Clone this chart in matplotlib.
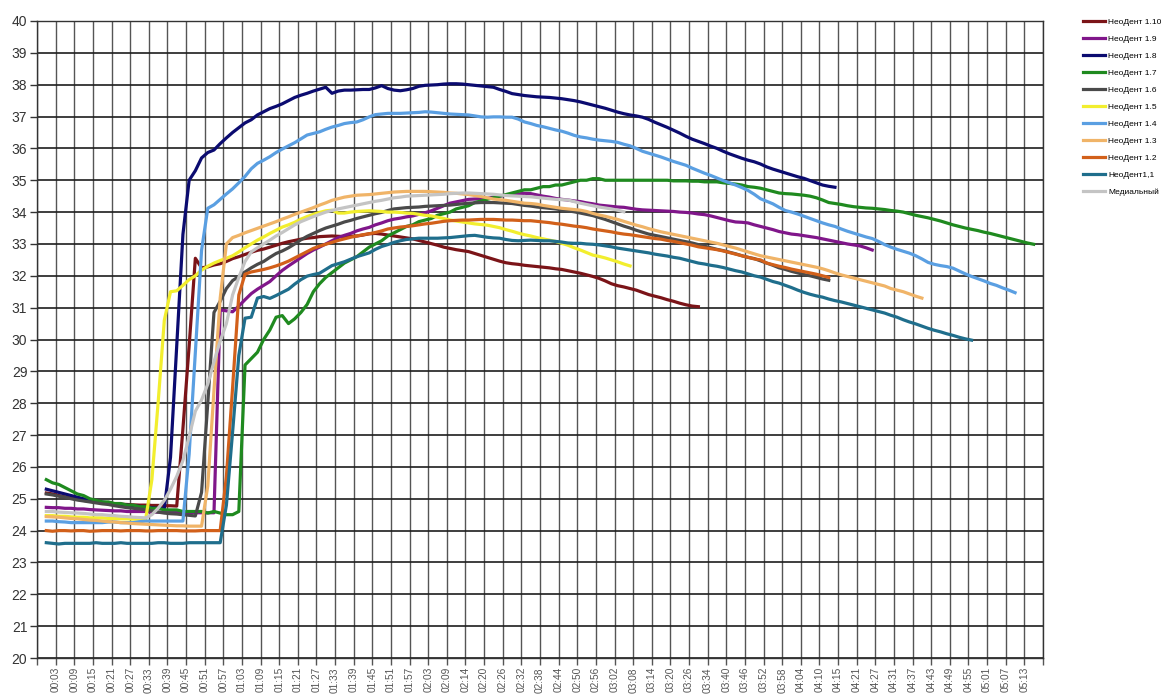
import numpy as np
import matplotlib
matplotlib.use('Agg')
import matplotlib.pyplot as plt

plt.rcParams['font.family'] = ['Liberation Sans', 'DejaVu Sans']

#===========================================
# x axis labels (every 3rd measurement)
time_labels = ['00:03', '00:09', '00:15', '00:21', '00:27', '00:33', '00:39', '00:45', '00:51', '00:57',
               '01:03', '01:09', '01:15', '01:21', '01:27', '01:33', '01:39', '01:45', '01:51', '01:57',
               '02:03', '02:09', '02:14', '02:20', '02:26', '02:32', '02:38', '02:44', '02:50', '02:56',
               '03:02', '03:08', '03:14', '03:20', '03:26', '03:34', '03:40', '03:46', '03:52', '03:58',
               '04:04', '04:10', '04:15', '04:21', '04:27', '04:31', '04:37', '04:43', '04:49', '04:55',
               '05:01', '05:07', '05:13']

#series values, one value per measurement
neo_1_10 = [25.18, 25.15, 25.10, 25.06, 25.02, 24.98, 24.95, 24.92, 24.90, 24.88,
            24.86, 24.84, 24.83, 24.82, 24.81, 24.80, 24.80, 24.79, 24.79, 24.78,
            24.78, 24.77, 27.20, 29.80, 32.55, 32.25, 32.28, 32.34, 32.38, 32.45,
            32.54, 32.60, 32.67, 32.74, 32.80, 32.84, 32.90, 32.96, 33.02, 33.07,
            33.11, 33.15, 33.18, 33.20, 33.23, 33.24, 33.25, 33.24, 33.23, 33.24,
            33.25, 33.28, 33.32, 33.33, 33.31, 33.28, 33.25, 33.22, 33.19, 33.16,
            33.11, 33.06, 33.01, 32.96, 32.90, 32.86, 32.82, 32.79, 32.76, 32.70,
            32.64, 32.58, 32.52, 32.46, 32.41, 32.38, 32.36, 32.33, 32.31, 32.29,
            32.27, 32.25, 32.22, 32.20, 32.16, 32.12, 32.08, 32.03, 31.98, 31.92,
            31.84, 31.75, 31.69, 31.65, 31.60, 31.55, 31.48, 31.41, 31.36, 31.31,
            31.25, 31.20, 31.14, 31.09, 31.05, 31.03]

neo_1_9 = [24.73, 24.72, 24.72, 24.70, 24.70, 24.68, 24.68, 24.66, 24.65, 24.64,
           24.63, 24.62, 24.62, 24.60, 24.60, 24.60, 24.60, 24.58, 24.58, 24.58,
           24.57, 24.57, 24.57, 24.56, 24.56, 24.56, 24.56, 24.56, 30.93, 30.90,
           30.87, 31.05, 31.25, 31.44, 31.58, 31.70, 31.82, 32.00, 32.17, 32.31,
           32.44, 32.57, 32.70, 32.81, 32.90, 33.00, 33.10, 33.20, 33.27, 33.33,
           33.41, 33.47, 33.52, 33.60, 33.66, 33.73, 33.78, 33.81, 33.85, 33.88,
           33.93, 33.98, 34.04, 34.12, 34.20, 34.28, 34.32, 34.36, 34.40, 34.41,
           34.42, 34.43, 34.47, 34.50, 34.53, 34.55, 34.57, 34.59, 34.58, 34.54,
           34.50, 34.47, 34.43, 34.40, 34.38, 34.35, 34.33, 34.29, 34.26, 34.22,
           34.20, 34.18, 34.16, 34.15, 34.12, 34.09, 34.07, 34.06, 34.05, 34.04,
           34.03, 34.02, 34.00, 33.99, 33.97, 33.94, 33.92, 33.88, 33.83, 33.78,
           33.73, 33.69, 33.68, 33.66, 33.60, 33.55, 33.50, 33.45, 33.39, 33.35,
           33.31, 33.29, 33.26, 33.23, 33.20, 33.16, 33.12, 33.08, 33.04, 33.00,
           32.97, 32.94, 32.88, 32.81]

neo_1_8 = [25.30, 25.25, 25.20, 25.15, 25.10, 25.05, 25.00, 24.96, 24.93, 24.90,
           24.87, 24.84, 24.82, 24.80, 24.78, 24.76, 24.74, 24.72, 24.70, 24.70,
           26.30, 29.80, 33.30, 35.00, 35.30, 35.70, 35.87, 35.95, 36.15, 36.33,
           36.50, 36.65, 36.80, 36.90, 37.05, 37.15, 37.25, 37.32, 37.40, 37.50,
           37.60, 37.67, 37.73, 37.80, 37.86, 37.92, 37.73, 37.80, 37.83, 37.83,
           37.84, 37.85, 37.85, 37.90, 37.97, 37.88, 37.83, 37.81, 37.84, 37.88,
           37.95, 37.98, 37.99, 38.00, 38.02, 38.03, 38.03, 38.02, 38.00, 37.98,
           37.96, 37.94, 37.92, 37.85, 37.79, 37.72, 37.69, 37.66, 37.64, 37.62,
           37.61, 37.60, 37.58, 37.56, 37.53, 37.50, 37.46, 37.41, 37.36, 37.31,
           37.26, 37.20, 37.14, 37.09, 37.05, 37.02, 36.98, 36.91, 36.82, 36.74,
           36.66, 36.57, 36.48, 36.38, 36.29, 36.22, 36.15, 36.07, 36.00, 35.91,
           35.83, 35.76, 35.69, 35.63, 35.58, 35.51, 35.42, 35.35, 35.29, 35.23,
           35.17, 35.11, 35.06, 34.99, 34.92, 34.85, 34.81, 34.78]

neo_1_7 = [25.60, 25.50, 25.45, 25.35, 25.25, 25.15, 25.10, 25.00, 24.95, 24.90,
           24.90, 24.85, 24.85, 24.80, 24.80, 24.75, 24.75, 24.70, 24.70, 24.65,
           24.65, 24.65, 24.60, 24.60, 24.60, 24.60, 24.55, 24.60, 24.55, 24.50,
           24.50, 24.60, 29.20, 29.40, 29.60, 30.00, 30.30, 30.70, 30.75, 30.50,
           30.65, 30.85, 31.10, 31.50, 31.75, 31.95, 32.10, 32.25, 32.40, 32.50,
           32.60, 32.75, 32.90, 33.00, 33.10, 33.25, 33.35, 33.45, 33.55, 33.60,
           33.70, 33.75, 33.80, 33.90, 33.95, 34.00, 34.10, 34.15, 34.20, 34.30,
           34.35, 34.40, 34.45, 34.50, 34.55, 34.60, 34.65, 34.70, 34.70, 34.75,
           34.80, 34.80, 34.85, 34.85, 34.90, 34.95, 35.00, 35.00, 35.05, 35.05,
           35.00, 35.00, 35.00, 35.00, 35.00, 35.00, 35.00, 35.00, 35.00, 35.00,
           35.00, 34.98, 34.98, 34.98, 34.97, 34.97, 34.95, 34.95, 34.95, 34.92,
           34.90, 34.88, 34.85, 34.80, 34.78, 34.75, 34.70, 34.65, 34.60, 34.58,
           34.57, 34.55, 34.53, 34.50, 34.45, 34.38, 34.30, 34.27, 34.24, 34.20,
           34.17, 34.15, 34.13, 34.12, 34.10, 34.08, 34.05, 34.03, 34.00, 33.95,
           33.90, 33.86, 33.82, 33.77, 33.72, 33.66, 33.60, 33.55, 33.50, 33.46,
           33.42, 33.37, 33.33, 33.28, 33.23, 33.18, 33.13, 33.08, 33.03, 32.99]

neo_1_6 = [25.15, 25.12, 25.08, 25.05, 25.00, 24.96, 24.93, 24.90, 24.87, 24.84,
           24.82, 24.78, 24.75, 24.72, 24.70, 24.68, 24.65, 24.62, 24.58, 24.55,
           24.53, 24.52, 24.50, 24.48, 24.46, 25.20, 28.00, 30.85, 31.20, 31.60,
           31.85, 31.98, 32.12, 32.25, 32.36, 32.45, 32.58, 32.70, 32.78, 32.88,
           33.00, 33.13, 33.24, 33.33, 33.42, 33.50, 33.56, 33.62, 33.69, 33.74,
           33.80, 33.85, 33.90, 33.95, 33.99, 34.05, 34.10, 34.12, 34.14, 34.15,
           34.16, 34.18, 34.19, 34.20, 34.21, 34.22, 34.24, 34.26, 34.28, 34.29,
           34.30, 34.30, 34.30, 34.29, 34.28, 34.27, 34.24, 34.21, 34.19, 34.16,
           34.14, 34.12, 34.10, 34.07, 34.04, 34.01, 33.97, 33.93, 33.89, 33.83,
           33.77, 33.70, 33.63, 33.56, 33.50, 33.43, 33.37, 33.31, 33.27, 33.23,
           33.19, 33.15, 33.11, 33.07, 33.03, 32.98, 32.93, 32.88, 32.83, 32.79,
           32.74, 32.69, 32.63, 32.58, 32.54, 32.47, 32.40, 32.33, 32.25, 32.20,
           32.14, 32.09, 32.04, 32.00, 31.95, 31.90, 31.86]

neo_1_5 = [24.47, 24.47, 24.45, 24.45, 24.43, 24.42, 24.42, 24.40, 24.40, 24.40,
           24.38, 24.38, 24.37, 24.37, 24.36, 24.36, 24.36, 25.60, 28.00, 30.60,
           31.50, 31.53, 31.70, 31.88, 32.00, 32.18, 32.30, 32.40, 32.48, 32.55,
           32.63, 32.75, 32.88, 33.00, 33.12, 33.22, 33.33, 33.43, 33.53, 33.60,
           33.68, 33.78, 33.86, 33.93, 33.99, 34.04, 34.06, 33.97, 33.97, 34.00,
           34.02, 34.03, 34.04, 34.03, 34.02, 34.00, 34.00, 33.99, 33.97, 33.96,
           33.93, 33.90, 33.88, 33.84, 33.80, 33.75, 33.72, 33.69, 33.66, 33.63,
           33.61, 33.59, 33.55, 33.51, 33.45, 33.40, 33.34, 33.29, 33.25, 33.20,
           33.16, 33.12, 33.08, 33.02, 32.96, 32.88, 32.81, 32.73, 32.65, 32.61,
           32.56, 32.50, 32.44, 32.37, 32.31]

neo_1_4 = [24.30, 24.30, 24.28, 24.27, 24.25, 24.25, 24.25, 24.25, 24.25, 24.25,
           24.27, 24.27, 24.25, 24.25, 24.25, 24.28, 24.30, 24.30, 24.30, 24.30,
           24.30, 24.30, 24.30, 26.40, 29.60, 32.80, 34.12, 34.23, 34.40, 34.57,
           34.73, 34.92, 35.12, 35.36, 35.53, 35.63, 35.74, 35.87, 35.98, 36.08,
           36.18, 36.30, 36.42, 36.47, 36.52, 36.60, 36.67, 36.72, 36.78, 36.81,
           36.83, 36.90, 36.99, 37.06, 37.08, 37.10, 37.10, 37.10, 37.11, 37.12,
           37.13, 37.15, 37.14, 37.12, 37.10, 37.08, 37.07, 37.06, 37.05, 37.02,
           36.99, 36.98, 36.99, 36.99, 36.98, 36.98, 36.92, 36.83, 36.78, 36.72,
           36.68, 36.63, 36.58, 36.54, 36.48, 36.41, 36.36, 36.33, 36.29, 36.26,
           36.24, 36.22, 36.19, 36.13, 36.08, 36.00, 35.91, 35.85, 35.79, 35.73,
           35.66, 35.59, 35.53, 35.47, 35.38, 35.30, 35.22, 35.15, 35.07, 34.99,
           34.92, 34.85, 34.77, 34.68, 34.56, 34.42, 34.34, 34.26, 34.15, 34.05,
           34.00, 33.94, 33.87, 33.80, 33.73, 33.66, 33.60, 33.55, 33.47, 33.40,
           33.34, 33.28, 33.22, 33.17, 33.08, 32.98, 32.90, 32.83, 32.77, 32.71,
           32.63, 32.53, 32.42, 32.36, 32.32, 32.29, 32.24, 32.15, 32.06, 31.98,
           31.91, 31.84, 31.76, 31.70, 31.62, 31.55, 31.47]

neo_1_3 = [24.44, 24.43, 24.42, 24.40, 24.38, 24.37, 24.35, 24.33, 24.32, 24.30,
           24.28, 24.27, 24.25, 24.24, 24.22, 24.21, 24.20, 24.19, 24.18, 24.17,
           24.16, 24.15, 24.15, 24.14, 24.14, 24.14, 25.40, 28.40, 31.30, 33.00,
           33.20, 33.27, 33.35, 33.42, 33.49, 33.56, 33.63, 33.70, 33.78, 33.85,
           33.93, 34.00, 34.07, 34.14, 34.22, 34.29, 34.37, 34.42, 34.47, 34.50,
           34.53, 34.54, 34.55, 34.57, 34.59, 34.61, 34.63, 34.64, 34.65, 34.65,
           34.65, 34.65, 34.64, 34.63, 34.62, 34.60, 34.59, 34.57, 34.55, 34.52,
           34.49, 34.45, 34.41, 34.39, 34.37, 34.34, 34.31, 34.28, 34.27, 34.25,
           34.21, 34.18, 34.15, 34.12, 34.10, 34.08, 34.06, 34.02, 33.96, 33.91,
           33.87, 33.82, 33.77, 33.71, 33.65, 33.59, 33.54, 33.48, 33.43, 33.38,
           33.34, 33.30, 33.26, 33.22, 33.18, 33.14, 33.10, 33.06, 33.02, 32.97,
           32.92, 32.87, 32.81, 32.75, 32.69, 32.63, 32.59, 32.55, 32.51, 32.47,
           32.43, 32.39, 32.35, 32.31, 32.27, 32.22, 32.16, 32.09, 32.03, 31.98,
           31.93, 31.88, 31.83, 31.78, 31.73, 31.68, 31.60, 31.55, 31.50, 31.43,
           31.36, 31.30]

neo_1_2 = [24.00, 23.98, 24.00, 24.00, 23.99, 24.00, 24.00, 23.98, 23.99, 24.00,
           24.00, 24.00, 23.99, 24.00, 24.00, 24.00, 23.99, 23.99, 24.00, 24.00,
           24.00, 24.00, 23.99, 23.99, 23.99, 24.00, 24.00, 24.00, 24.00, 25.70,
           28.50, 31.40, 32.05, 32.12, 32.16, 32.20, 32.25, 32.31, 32.38, 32.46,
           32.56, 32.66, 32.76, 32.86, 32.93, 32.99, 33.05, 33.11, 33.16, 33.21,
           33.25, 33.29, 33.32, 33.36, 33.41, 33.47, 33.50, 33.53, 33.55, 33.57,
           33.60, 33.63, 33.65, 33.68, 33.71, 33.73, 33.74, 33.75, 33.75, 33.76,
           33.77, 33.77, 33.77, 33.76, 33.75, 33.75, 33.74, 33.73, 33.73, 33.71,
           33.69, 33.67, 33.64, 33.62, 33.59, 33.56, 33.54, 33.51, 33.47, 33.44,
           33.41, 33.38, 33.34, 33.31, 33.29, 33.26, 33.23, 33.20, 33.17, 33.15,
           33.11, 33.08, 33.04, 33.00, 32.96, 32.91, 32.88, 32.85, 32.82, 32.78,
           32.73, 32.68, 32.63, 32.58, 32.53, 32.50, 32.40, 32.35, 32.30, 32.26,
           32.21, 32.17, 32.13, 32.09, 32.05, 32.00, 31.95]

neo_1_1 = [23.62, 23.60, 23.58, 23.60, 23.60, 23.60, 23.60, 23.60, 23.62, 23.60,
           23.60, 23.60, 23.62, 23.60, 23.60, 23.60, 23.60, 23.60, 23.62, 23.62,
           23.60, 23.60, 23.60, 23.62, 23.62, 23.62, 23.62, 23.62, 23.62, 24.80,
           27.10, 29.50, 30.67, 30.70, 31.30, 31.35, 31.29, 31.38, 31.48, 31.58,
           31.74, 31.88, 31.99, 32.04, 32.08, 32.20, 32.32, 32.38, 32.44, 32.52,
           32.60, 32.66, 32.72, 32.83, 32.92, 32.98, 33.05, 33.10, 33.14, 33.16,
           33.18, 33.18, 33.18, 33.18, 33.19, 33.20, 33.22, 33.24, 33.26, 33.27,
           33.24, 33.21, 33.19, 33.18, 33.14, 33.11, 33.10, 33.11, 33.12, 33.11,
           33.10, 33.10, 33.08, 33.06, 33.03, 33.02, 33.02, 33.00, 32.99, 32.97,
           32.94, 32.91, 32.87, 32.84, 32.81, 32.78, 32.75, 32.72, 32.68, 32.65,
           32.62, 32.58, 32.55, 32.50, 32.45, 32.40, 32.37, 32.33, 32.30, 32.26,
           32.21, 32.16, 32.12, 32.06, 32.00, 31.96, 31.89, 31.82, 31.77, 31.70,
           31.63, 31.55, 31.48, 31.42, 31.37, 31.33, 31.27, 31.22, 31.18, 31.13,
           31.08, 31.03, 30.98, 30.93, 30.88, 30.83, 30.76, 30.70, 30.62, 30.55,
           30.49, 30.42, 30.35, 30.29, 30.24, 30.18, 30.13, 30.07, 30.02, 29.98]

medial = [24.60, 24.60, 24.58, 24.57, 24.56, 24.55, 24.54, 24.52, 24.50, 24.50,
          24.48, 24.47, 24.45, 24.44, 24.42, 24.41, 24.40, 24.50, 24.70, 24.95,
          25.30, 25.70, 26.20, 26.95, 27.75, 28.10, 28.60, 29.30, 29.95, 30.50,
          31.40, 31.95, 32.45, 32.75, 32.88, 33.00, 33.12, 33.25, 33.36, 33.48,
          33.60, 33.70, 33.78, 33.86, 33.93, 34.00, 34.05, 34.10, 34.14, 34.18,
          34.22, 34.26, 34.30, 34.34, 34.37, 34.41, 34.45, 34.47, 34.50, 34.51,
          34.52, 34.53, 34.54, 34.55, 34.56, 34.58, 34.59, 34.60, 34.60, 34.59,
          34.58, 34.57, 34.56, 34.54, 34.52, 34.51, 34.50, 34.49, 34.48, 34.46,
          34.44, 34.42, 34.40, 34.39, 34.38, 34.33, 34.28, 34.24, 34.20, 34.16,
          34.13, 34.10, 34.06, 34.01]

series_names = ['НеоДент 1.10', 'НеоДент 1.9', 'НеоДент 1.8', 'НеоДент 1.7', 'НеоДент 1.6',
                'НеоДент 1.5', 'НеоДент 1.4', 'НеоДент 1.3', 'НеоДент 1.2', 'НеоДент1,1',
                'Медиальный']
series_values = [neo_1_10, neo_1_9, neo_1_8, neo_1_7, neo_1_6,
                 neo_1_5, neo_1_4, neo_1_3, neo_1_2, neo_1_1, medial]
colors = ['#7b1418', '#80168a', '#0b0b70', '#1f8a1f', '#4a4a4a',
          '#f2ee2e', '#5a9fe2', '#f0b468', '#d2601a', '#1f6e8c', '#c4c4c4']

#===========================================
fig = plt.figure(figsize=(11.65, 6.97), dpi=100)
ax = fig.add_axes([37/1165, 1-658/697, (1043-37)/1165, (658-21)/697])

# 3 measurements per labelled grid cell
for name, vals, c in zip(series_names, series_values, colors):
    x = (np.arange(len(vals)) + 1.5) / 3
    ax.plot(x, vals, color=c, lw=2.3, label=name, solid_joinstyle='round')

n_cells = len(time_labels) + 1
ax.set_xlim(0, n_cells)
ax.set_ylim(20, 40)
ax.set_xticks(np.arange(0, n_cells + 1))
ax.set_xticklabels([''] + time_labels + [''], rotation=90, fontsize=7.3, color='#555555')
ax.set_yticks(np.arange(20, 41))
ax.tick_params(axis='y', labelsize=10, colors='#333333', length=5, width=1, pad=2)
ax.tick_params(axis='x', length=5, width=1, color='#555555', pad=1.5)

ax.grid(axis='y', color='#1e1e1e', lw=1.2)
ax.grid(axis='x', color='#555555', lw=1.0)
ax.set_axisbelow(True)
for s in ax.spines.values():
    s.set_color('#333333')
    s.set_linewidth(1.0)

fig.legend(loc='upper left', bbox_to_anchor=(1078/1165, 1-13/697), frameon=False,
           fontsize=6, handlelength=2.6, labelspacing=1.1, handletextpad=0.45,
           borderaxespad=0.2)

fig.savefig('out.png', dpi=100)
